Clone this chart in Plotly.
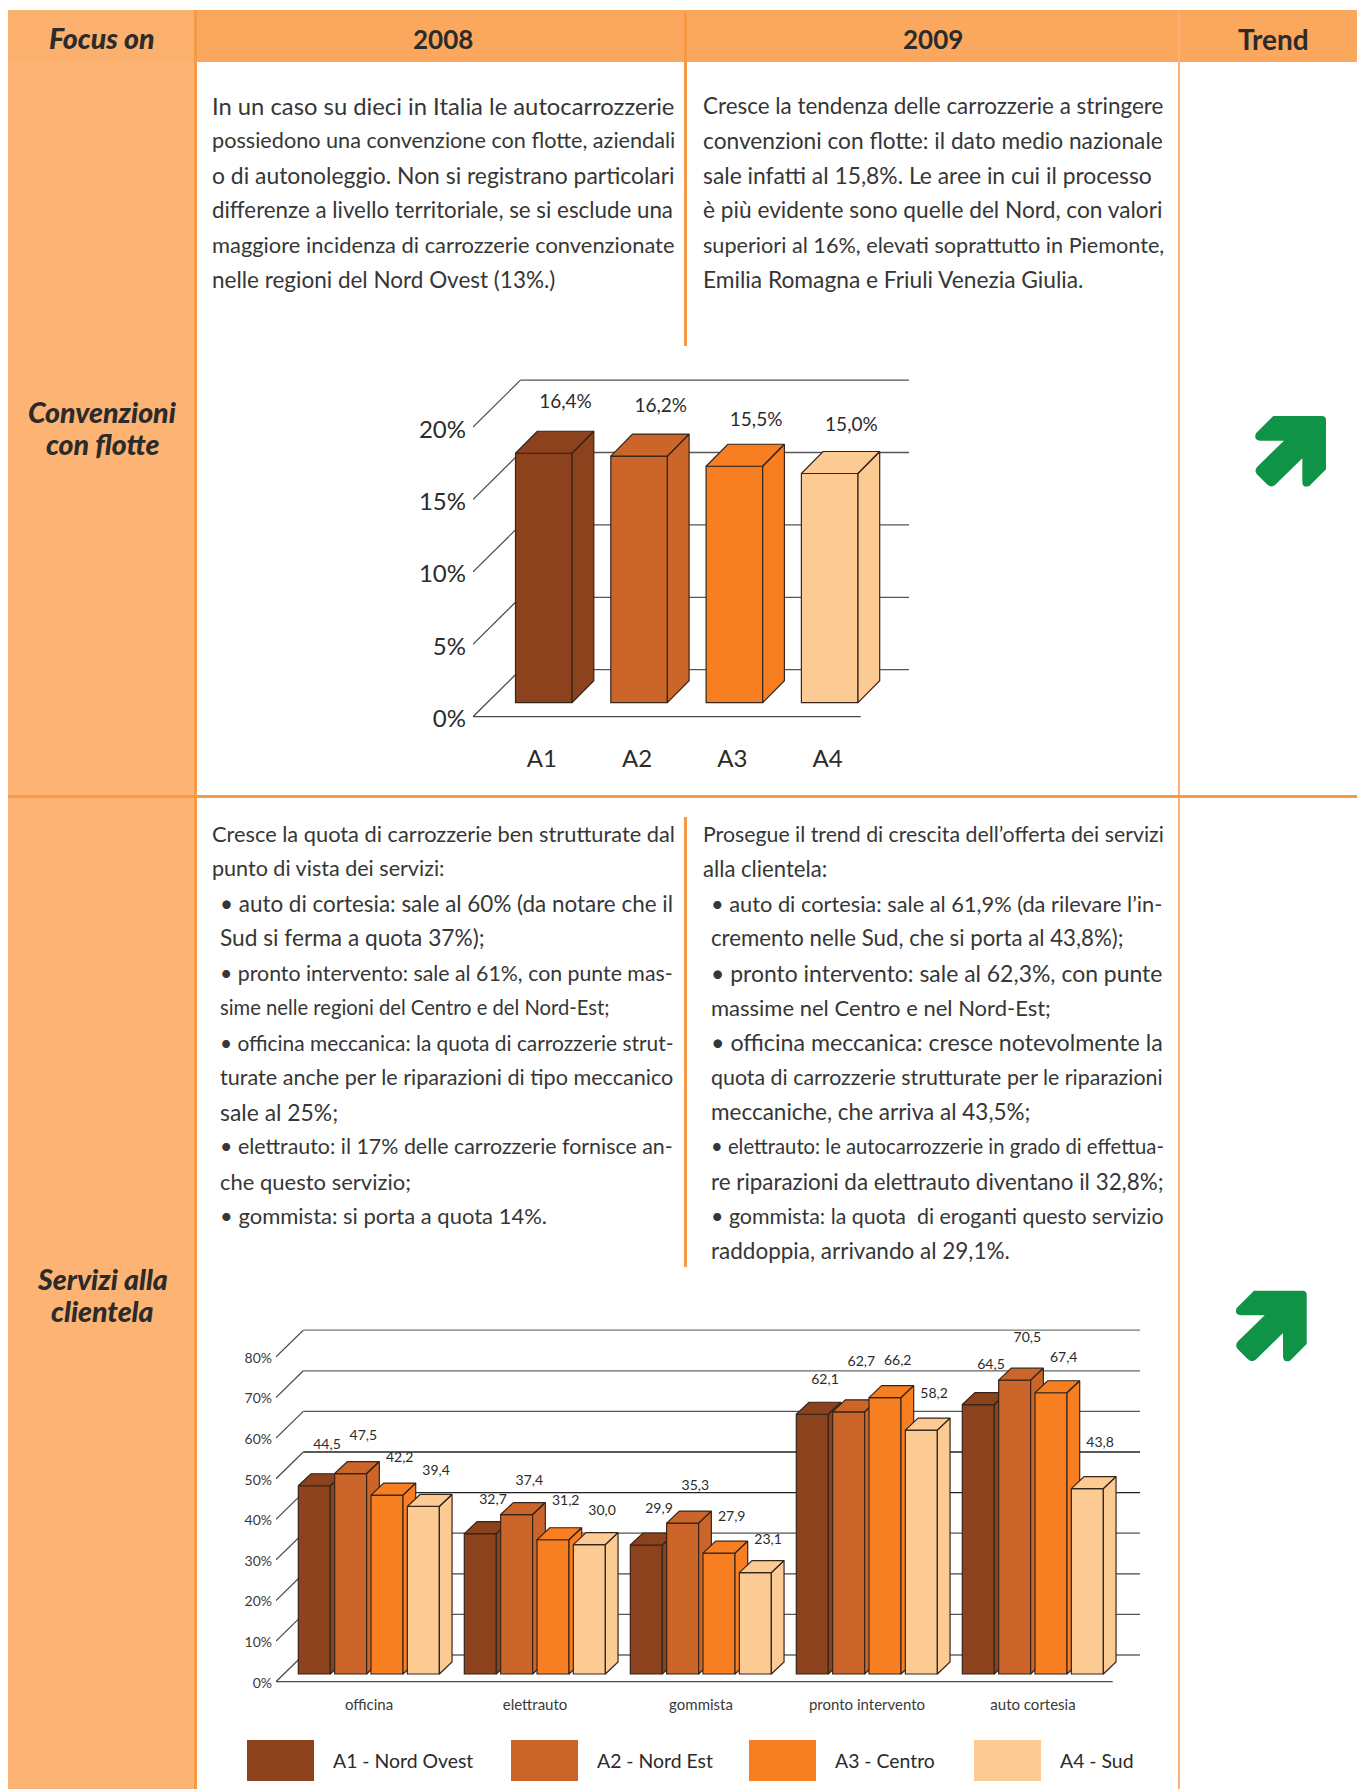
import plotly.graph_objects as go

# ---------- data ----------
REGIONS = ["A1", "A2", "A3", "A4"]
REGION_NAMES = ["A1 - Nord Ovest", "A2 - Nord Est", "A3 - Centro", "A4 - Sud"]
COLORS = ["#8B421D", "#CB6529", "#F77F22", "#FCCA93"]
FLEET = [16.4, 16.2, 15.5, 15.0]
FLEET_TICKS = [0, 5, 10, 15, 20]

SERVICES = ["officina", "elettrauto", "gommista", "pronto intervento", "auto cortesia"]
A1 = [44.5, 32.7, 29.9, 62.1, 64.5]
A2 = [47.5, 37.4, 35.3, 62.7, 70.5]
A3 = [42.2, 31.2, 27.9, 66.2, 67.4]
A4 = [39.4, 30.0, 23.1, 58.2, 43.8]
SERVICE_TICKS = [0, 10, 20, 30, 40, 50, 60, 70, 80]

HEAD = ["Focus on", "2008", "2009", "Trend"]
T1_08 = ["In un caso su dieci in Italia le autocarrozzerie",
         "possiedono una convenzione con flotte, aziendali",
         "o di autonoleggio. Non si registrano particolari",
         "differenze a livello territoriale, se si esclude una",
         "maggiore incidenza di carrozzerie convenzionate",
         "nelle regioni del Nord Ovest (13%.)"]
T1_09 = ["Cresce la tendenza delle carrozzerie a stringere",
         "convenzioni con flotte: il dato medio nazionale",
         "sale infatti al 15,8%. Le aree in cui il processo",
         "è più evidente sono quelle del Nord, con valori",
         "superiori al 16%, elevati soprattutto in Piemonte,",
         "Emilia Romagna e Friuli Venezia Giulia."]
T2_08 = ["Cresce la quota di carrozzerie ben strutturate dal",
         "punto di vista dei servizi:",
         "• auto di cortesia: sale al 60% (da notare che il",
         "Sud si ferma a quota 37%);",
         "• pronto intervento: sale al 61%, con punte mas-",
         "sime nelle regioni del Centro e del Nord-Est;",
         "• officina meccanica: la quota di carrozzerie strut-",
         "turate anche per le riparazioni di tipo meccanico",
         "sale al 25%;",
         "• elettrauto: il 17% delle carrozzerie fornisce an-",
         "che questo servizio;",
         "• gommista: si porta a quota 14%."]
T2_09 = ["Prosegue il trend di crescita dell’offerta dei servizi",
         "alla clientela:",
         "• auto di cortesia: sale al 61,9% (da rilevare l’in-",
         "cremento nelle Sud, che si porta al 43,8%);",
         "• pronto intervento: sale al 62,3%, con punte",
         "massime nel Centro e nel Nord-Est;",
         "• officina meccanica: cresce notevolmente la",
         "quota di carrozzerie strutturate per le riparazioni",
         "meccaniche, che arriva al 43,5%;",
         "• elettrauto: le autocarrozzerie in grado di effettua-",
         "re riparazioni da elettrauto diventano il 32,8%;",
         "• gommista: la quota  di eroganti questo servizio",
         "raddoppia, arrivando al 29,1%."]

# font sizes that give each line its justified width
SZ1_08 = [23.8, 21.65, 22.9, 22.33, 21.9, 22.5]
SZ1_09 = [22.45, 22.7, 22.85, 22.7, 21.65, 22.75]
SZ2_08 = [21.8, 21.55, 22.45, 22.7, 21.3, 20.2, 20.9, 21.6, 22.9, 21.4, 22.0, 22.0]
SZ2_09 = [21.3, 22.1, 21.8, 22.25, 22.95, 22.0, 23.2, 21.4, 22.5, 20.25, 22.4, 21.4, 22.5]

# ---------- page geometry ----------
W, H = 1357, 1789
FONT = "Lato"
INK = "#2b2b2b"
BODY = "#363636"
def px(x): return x / W
def py(y): return 1 - y / H

shapes, annos = [], []
def rect(x0, y0, x1, y1, color):
    shapes.append(dict(type="rect", xref="paper", yref="paper", x0=px(x0), x1=px(x1), y0=py(y0), y1=py(y1),
                       fillcolor=color, line_width=0, layer="below"))
def text(x, y, s, size=22, anchor="left", color=INK, **kw):
    annos.append(dict(xref="paper", yref="paper", x=px(x - 2 if anchor == "left" else x), y=py(y), text=s, showarrow=False,
                      xanchor=anchor, yanchor="middle", font=dict(family=FONT, size=size, color=color, **kw)))

rect(8, 10, 196, 1789, "#FCB373")
rect(196, 10, 1357, 62, "#FBA75E")
rect(8, 10, 196, 62, "#FCB06E")
rect(194, 10, 197, 1789, "#F79A45")
rect(684, 13, 687, 346, "#F79A45")
rect(684, 817, 687, 1267, "#F79A45")
rect(1178, 10, 1180, 1789, "#FBB27A")
rect(8, 795, 1357, 798, "#F79A45")

BOLD = dict(weight=700)
BI = dict(weight=900, style="italic")
text(101.5, 38, HEAD[0], 28.5, "center", **BI)
text(442.5, 39, HEAD[1], 26, "center", **BOLD)
text(933.5, 39, HEAD[2], 26, "center", **BOLD)
text(1273.5, 39, HEAD[3], 28, "center", **BOLD)
text(102, 412, "Convenzioni", 28.5, "center", **BI)
text(102, 444, "con flotte", 28.5, "center", **BI)
text(102, 1279, "Servizi alla", 28.5, "center", **BI)
text(102, 1311, "clientela", 28.5, "center", **BI)

LINE = 34.75
for lines, sizes, x0, y0, ind in [(T1_08, SZ1_08, 212, 105.6, 212), (T1_09, SZ1_09, 703, 105.6, 703),
                                  (T2_08, SZ2_08, 212, 833.6, 220), (T2_09, SZ2_09, 703, 833.6, 711)]:
    for k, (s, z) in enumerate(zip(lines, sizes)):
        x = x0 if k < 2 and y0 > 500 else ind
        text(x, y0 + k * LINE, s, z, color=BODY, weight=400)

# trend arrows
def arrow(ox, oy):
    pts = ("M 280,1248 L 425,1248 Q 438,1248 438,1260 L 438,1408 L 388,1458 Q 367,1465 367,1445 L 367,1375 "
           "L 285,1455 Q 272,1465 260,1452 L 230,1422 Q 222,1410 232,1400 L 312,1322 L 240,1322 "
           "Q 220,1320 228,1300 Z").split(" ")
    out = []
    for p in pts:
        if "," in p:
            a, b = p.split(",")
            out.append(f"{px(ox + 1180 + float(a) / 3):.5f},{py(oy + float(b) / 3):.5f}")
        else:
            out.append(p)
    shapes.append(dict(type="path", xref="paper", yref="paper", path=" ".join(out), fillcolor="#0F9347", line_width=0, layer="above"))
arrow(0, 0)
arrow(-19.3, 874.7)

# legend of the second chart
for sx, tx, c, name in zip([247, 511, 749, 974], [333, 597, 835, 1060], COLORS, REGION_NAMES):
    rect(sx, 1740, sx + 67, 1781, c)
    text(tx, 1760, name, 19.4)

# ---------- charts ----------
fig = go.Figure()
EDGE = "#35251b"

def fmt(v, suffix=""):
    return f"{v:.1f}".replace(".", ",") + suffix

def series(xa, ya, xs, vals, width, offset, color, s, xscale, base, dx, dy, lifts, suffix, labels):
    fig.add_trace(go.Bar(x=xs, y=[v - base for v in vals], base=base, width=width, offset=offset,
                         marker=dict(color=color, line=dict(color=EDGE, width=1.2)),
                         xaxis=xa, yaxis=ya, hoverinfo="skip"))
    du, dv = dx / xscale, dy / s
    px_, py_ = [], []
    for x, v in zip(xs, vals):
        l, r = x + offset, x + offset + width
        px_ += [l, l + du, r + du, r, l, None, r, r + du, r + du, r, r, None]
        py_ += [v, v + dv, v + dv, v, v, None, v, v + dv, base + dv, base, v, None]
    fig.add_trace(go.Scatter(x=px_, y=py_, mode="lines", fill="toself", fillcolor=color,
                             line=dict(color=EDGE, width=1.2), xaxis=xa, yaxis=ya, hoverinfo="skip"))
    labels["x"] += [x + offset + width / 2 + du for x in xs]
    labels["y"] += [v + dv + l / s for v, l in zip(vals, lifts)]
    labels["t"] += [fmt(v, suffix) for v in vals]

def wall(xa, ya, ticks, s, xfl, xfr, x_back_l, x_back_r, dy, to_x, colors):
    """floor line, back wall gridlines and left wall diagonals, in front-axis units"""
    dv = dy / s
    for t, c in zip(ticks, colors):
        fig.add_trace(go.Scatter(x=[to_x(x_back_l), to_x(x_back_r)], y=[t + dv, t + dv], mode="lines",
                                 line=dict(color=c, width=1.3), xaxis=xa, yaxis=ya, hoverinfo="skip"))
    dx_, dy_ = [], []
    for t in ticks:
        dx_ += [to_x(xfl), to_x(x_back_l), None]
        dy_ += [t, t + dv, None]
    dx_ += [to_x(xfl), to_x(xfr)]
    dy_ += [0, 0]
    fig.add_trace(go.Scatter(x=dx_, y=dy_, mode="lines", line=dict(color="#4a4a4a", width=1.2),
                             xaxis=xa, yaxis=ya, hoverinfo="skip"))

# chart 1
s1 = 14.48
step1 = 95.3
c0 = 543.8
to_x1 = lambda p: (p - c0) / step1
front1, plane1 = 716.7, 690.7
base1 = (plane1 - 702.7) / s1
dom1x = (473, 915)
dom1y = (372, 742)
xs1 = list(range(len(REGIONS)))
wall("x", "y", FLEET_TICKS, s1, 473, 860.7, 520.5, 909, 47, to_x1, ["#555"] * 5)
lab1 = dict(x=[], y=[], t=[])
w1 = 56.6 / step1
LIFTS1 = [28, 27, 23.5, 25.7]
for i, (v, c, lift) in enumerate(zip(FLEET, COLORS, LIFTS1)):
    series("x", "y2", [i], [v], w1, -w1 / 2, c, s1, step1, base1, 21.7, 22, [lift], "%", lab1)
fig.add_trace(go.Scatter(x=lab1["x"], y=lab1["y"], text=lab1["t"], mode="text", textposition="middle center",
                         textfont=dict(family=FONT, size=19, color=INK), xaxis="x", yaxis="y2", hoverinfo="skip",
                         cliponaxis=False))

# chart 2
s2 = 4.06
step2 = 166.0
c2 = 369.0
to_x2 = lambda p: (p - c2) / step2
front2, plane2 = 1681.7, 1666.4
base2 = (plane2 - 1674) / s2
dom2x = (276, 1150)
dom2y = (1320, 1692)
xs2 = list(range(len(SERVICES)))
GRID2 = ["#666", "#555", "#444", "#555", "#222", "#222", "#555", "#666", "#777"]
wall("x2", "y3", SERVICE_TICKS, s2, 276, 1112.7, 303.3, 1140, 26.7, to_x2, GRID2)
LIFTS2 = [[28, 21, 23.7, 22, 27.3], [24.6, 20.6, 24.7, 37.7, 29.7], [25, 26, 23.7, 24.3, 22.2], [22.5, 21.5, 19.7, 24, 33]]
lab2 = dict(x=[], y=[], t=[])
w2 = 32 / step2
for j, (vals, c, lifts) in enumerate(zip([A1, A2, A3, A4], COLORS, LIFTS2)):
    off = (-70.7 + 36.35 * j) / step2
    series("x2", f"y{4 + j}", xs2, vals, w2, off, c, s2, step2, base2, 12.7, 12, lifts, "", lab2)
fig.add_trace(go.Scatter(x=lab2["x"], y=lab2["y"], text=lab2["t"], mode="text", textposition="middle center",
                         textfont=dict(family=FONT, size=14, color=INK), xaxis="x2", yaxis="y7", hoverinfo="skip",
                         cliponaxis=False))

def yrange(domy, zero_px, s):
    return [(zero_px - domy[1]) / s, (zero_px - domy[0]) / s]

def domain_x(d): return [px(d[0]), px(d[1])]
def domain_y(d): return [py(d[1]), py(d[0])]

layout = dict(
    width=W, height=H, margin=dict(l=0, r=0, t=0, b=0), autosize=False, showlegend=False,
    paper_bgcolor="white", plot_bgcolor="rgba(0,0,0,0)", shapes=shapes, annotations=annos,
    barmode="overlay", hovermode=False,
    xaxis=dict(domain=domain_x(dom1x), range=[to_x1(dom1x[0]), to_x1(dom1x[1])], tickmode="array", tickvals=xs1,
               ticktext=REGIONS, showgrid=False, zeroline=False, showline=False, ticks="", anchor="y",
               tickfont=dict(family=FONT, size=24, color=INK), ticklabelshift=-2),
    yaxis=dict(domain=domain_y(dom1y), range=yrange(dom1y, front1, s1), tickmode="array", tickvals=FLEET_TICKS,
               ticktext=[f"{t}%" for t in FLEET_TICKS], showgrid=False, zeroline=False, showline=False, ticks="",
               anchor="x", tickfont=dict(family=FONT, size=24, color=INK), ticklabelstandoff=6, ticklabelshift=2),
    yaxis2=dict(overlaying="y", range=yrange(dom1y, plane1, s1), visible=False),
    xaxis2=dict(domain=domain_x(dom2x), range=[to_x2(dom2x[0]), to_x2(dom2x[1])], tickmode="array", tickvals=xs2,
                ticktext=SERVICES, showgrid=False, zeroline=False, showline=False, ticks="", anchor="y3",
                tickfont=dict(family=FONT, size=15, color="#3a3a3a"), ticklabelstandoff=2),
    yaxis3=dict(domain=domain_y(dom2y), range=yrange(dom2y, front2, s2), tickmode="array", tickvals=SERVICE_TICKS,
                ticktext=[f"{t}%" for t in SERVICE_TICKS], showgrid=False, zeroline=False, showline=False, ticks="",
                anchor="x2", tickfont=dict(family=FONT, size=14, color="#3a3a3a"), ticklabelstandoff=3, ticklabelshift=1),
)
for n in range(4, 8):
    layout[f"yaxis{n}"] = dict(overlaying="y3", range=yrange(dom2y, plane2, s2), visible=False)
fig.update_layout(**layout)
fig.write_html("out.html", default_width=f"{W}px", default_height=f"{H}px",
               config=dict(displayModeBar=False),
               post_script="document.body.style.margin='0';")
